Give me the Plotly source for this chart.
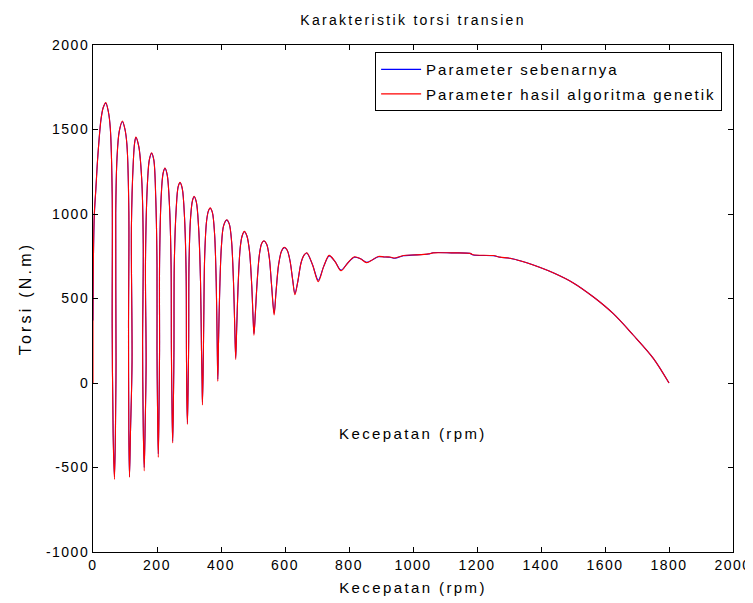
import plotly.graph_objects as go

TITLE = "Karakteristik torsi transien"
X_LABEL = "Kecepatan (rpm)"
Y_LABEL = "Torsi (N.m)"
SERIES_NAMES = ["Parameter sebenarnya", "Parameter hasil algoritma genetik"]
X_TICKS = [0, 200, 400, 600, 800, 1000, 1200, 1400, 1600, 1800, 2000]
Y_TICKS = [-1000, -500, 0, 500, 1000, 1500, 2000]

TRUE_X = [0, 1, 4, 9, 15, 25, 32, 40,
          48, 54, 60, 60, 63, 67, 70, 72, 71, 75, 82, 92,
          100, 106, 112, 111, 112, 114, 117, 122, 120, 126, 130, 134,
          143, 152, 157, 155, 157, 160, 163, 166, 164, 171, 176, 183,
          190, 196, 200, 200, 202, 204, 206, 208, 208, 213, 219, 225,
          232, 239, 244, 245, 247, 249, 251, 253, 254, 260, 266, 272,
          279, 286, 291, 292, 293, 295, 297, 299, 300, 305, 311, 316,
          323, 330, 336, 339, 341, 342, 344, 346, 349, 355, 361, 366,
          373, 380, 385, 388, 390, 392, 396, 401, 408, 418,
          426, 433, 439, 443, 446, 449, 454, 460, 466, 473,
          481, 489, 496, 500, 503, 507, 513, 520, 527, 534,
          543, 551, 558, 566, 572, 580, 589, 598,
          607, 616, 624, 631, 640, 650, 659, 668,
          686, 704, 721, 738, 756, 775, 796, 817, 836, 855, 874, 892,
          910, 928, 944, 970, 1010, 1048, 1063, 1120, 1178, 1188, 1251,
          1272, 1303, 1340, 1376, 1438, 1501, 1563, 1626, 1688, 1751, 1800]
TRUE_Y = [370, 690, 980, 1150, 1340, 1560, 1630, 1655,
          1605, 1509, 1114, 324, -300, -555, -300, 126, 1000, 1330, 1489, 1546,
          1500, 1410, 1015, 324, -300, -550, -300, 126, 917, 1311, 1420, 1452,
          1400, 1213, 818, 225, -250, -500, -250, 126, 719, 1213, 1320, 1359,
          1320, 1100, 700, 200, -200, -420, -200, 200, 700, 1100, 1240, 1270,
          1230, 1050, 700, 200, -150, -345, -150, 200, 700, 1030, 1160, 1185,
          1150, 980, 650, 200, -50, -235, -50, 250, 700, 980, 1080, 1102,
          1070, 920, 600, 200, 0, -115, 50, 350, 750, 960, 1020, 1034,
          1010, 880, 600, 250, 22, 220, 550, 800, 930, 964,
          940, 840, 600, 330, 150, 320, 600, 800, 870, 895,
          870, 780, 580, 400, 292, 400, 600, 760, 825, 840,
          820, 740, 580, 412, 540, 700, 780, 801,
          785, 720, 610, 530, 600, 710, 755, 769,
          700, 608, 690, 751, 720, 668, 710, 744, 735, 714, 730, 747,
          746, 744, 738, 753, 758, 763, 771, 770, 767, 757, 753,
          744, 738, 720, 698, 652, 592, 510, 410, 284, 146, 0]

# speed (rpm) values - genetic algorithm parameters (red)
GA_X = [0, 0, 1, 4, 9, 15, 25, 32, 40,
        48, 54, 60, 60, 63, 67, 70, 72, 71, 75, 82, 92,
        100, 106, 112, 111, 112, 114, 117, 122, 120, 126, 130, 134,
        143, 152, 157, 155, 157, 160, 163, 166, 164, 171, 176, 183,
        190, 196, 200, 200, 202, 204, 206, 208, 208, 213, 219, 225,
        232, 239, 244, 245, 247, 249, 251, 253, 254, 260, 266, 272,
        279, 286, 291, 292, 293, 295, 297, 299, 300, 305, 311, 316,
        323, 330, 336, 339, 341, 342, 344, 346, 349, 355, 361, 366,
        373, 380, 385, 388, 390, 392, 396, 401, 408, 418,
        426, 433, 439, 443, 446, 449, 454, 460, 466, 473,
        481, 489, 496, 500, 503, 507, 513, 520, 527, 534,
        543, 551, 558, 566, 572, 580, 589, 598,
        607, 616, 624, 631, 640, 650, 659, 668,
        686, 704, 721, 738, 756, 775, 796, 817, 836, 855, 874, 892,
        910, 928, 944, 970, 1010, 1048, 1063, 1120, 1178, 1188, 1251,
        1272, 1303, 1340, 1376, 1438, 1501, 1563, 1626, 1688, 1751, 1800]
# torque (N.m) values - genetic algorithm parameters (red)
GA_Y = [0, 380, 690, 1000, 1150, 1340, 1560, 1630, 1660,
        1605, 1509, 1114, 324, -320, -570, -310, 126, 1000, 1330, 1489, 1550,
        1500, 1410, 1015, 324, -300, -558, -300, 126, 917, 1311, 1420, 1455,
        1400, 1213, 818, 225, -260, -520, -260, 126, 719, 1213, 1320, 1362,
        1320, 1100, 700, 200, -210, -440, -210, 200, 700, 1100, 1240, 1272,
        1230, 1050, 700, 200, -160, -355, -160, 200, 700, 1030, 1160, 1187,
        1150, 980, 650, 200, -60, -245, -60, 250, 700, 980, 1080, 1105,
        1070, 920, 600, 200, -10, -130, 40, 350, 750, 960, 1020, 1036,
        1010, 880, 600, 250, 10, 220, 550, 800, 930, 966,
        940, 840, 600, 330, 140, 320, 600, 800, 870, 897,
        870, 780, 580, 400, 282, 400, 600, 760, 825, 842,
        820, 740, 580, 402, 540, 700, 780, 803,
        785, 720, 610, 522, 600, 710, 755, 771,
        700, 600, 690, 755, 720, 664, 710, 747, 735, 712, 730, 749,
        746, 746, 740, 754, 758, 764, 770, 770, 767, 759, 754,
        745, 738, 720, 698, 652, 592, 510, 410, 284, 146, 0]

FONT = "Liberation Sans, Arial, sans-serif"


def spaced(text, px):
    return '<span style="letter-spacing:%spx">%s</span>' % (px, text)


fig = go.Figure()
fig.add_trace(go.Scatter(x=TRUE_X, y=TRUE_Y, mode="lines", name=spaced(SERIES_NAMES[0], 2.0),
                         legendgroup="a",
                         line=dict(color="#0000ff", width=1.1, shape="spline", smoothing=0.9)))
fig.add_trace(go.Scatter(x=GA_X, y=GA_Y, mode="lines", name=spaced(SERIES_NAMES[1], 2.0),
                         legendgroup="b",
                         line=dict(color="#ff0000", width=1.1, shape="spline", smoothing=0.9)))

fig.add_annotation(x=1000, y=-296, xref="x", yref="y", text=spaced(X_LABEL, 2.4), showarrow=False,
                   font=dict(family=FONT, size=15, color="black"))

axis_common = dict(showline=True, linecolor="black", linewidth=1, mirror="ticks",
                   ticks="inside", ticklen=5, tickcolor="black", showgrid=False,
                   zeroline=False, automargin=False,
                   tickfont=dict(family=FONT, size=14, color="black"))

fig.update_layout(
    width=745, height=595,
    paper_bgcolor="white", plot_bgcolor="white",
    margin=dict(l=85, r=20, t=37, b=51),
    title=dict(text=spaced(TITLE, 2.3), x=0.5, xref="paper", xanchor="center",
               y=1 - 12 / 595, yref="container", yanchor="middle",
               font=dict(family=FONT, size=14, color="black")),
    xaxis=dict(range=[0, 2000], tickvals=X_TICKS,
               ticktext=[spaced(v, 1.5) for v in X_TICKS],
               title=dict(text=spaced(X_LABEL, 2.4), standoff=10,
                          font=dict(family=FONT, size=15, color="black")),
               **axis_common),
    yaxis=dict(range=[-1000, 2000], tickvals=Y_TICKS,
               ticktext=[spaced(v, 1.5) for v in Y_TICKS],
               title=dict(text=spaced(Y_LABEL, 3.2), standoff=10,
                          font=dict(family=FONT, size=16, color="black")),
               **axis_common),
    legend=dict(x=0.983, y=0.986, xanchor="right", yanchor="top",
                bgcolor="white", bordercolor="black", borderwidth=1,
                font=dict(family=FONT, size=15, color="black"),
                tracegroupgap=2, itemwidth=40),
    showlegend=True,
)

fig.write_html("out.html")
